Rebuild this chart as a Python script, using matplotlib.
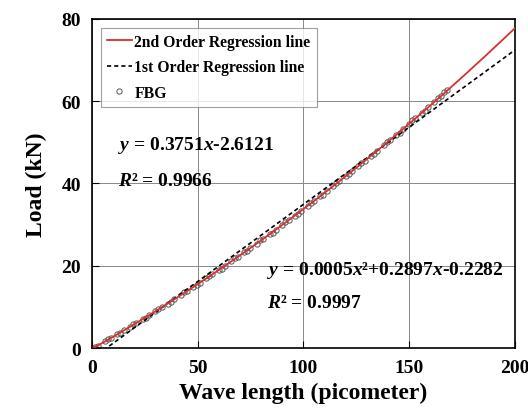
import matplotlib
matplotlib.use('Agg')
import matplotlib.pyplot as plt
import numpy as np

plt.rcParams['font.family'] = 'Liberation Serif'
plt.rcParams['font.weight'] = 'bold'
plt.rcParams['mathtext.fontset'] = 'custom'
plt.rcParams['mathtext.rm'] = 'Liberation Serif:bold'
plt.rcParams['mathtext.it'] = 'Liberation Serif:italic:bold'
plt.rcParams['mathtext.bf'] = 'Liberation Serif:bold'

# FBG measurements (wave length shift in pm, load in kN)
wl_1 = [0, 3, 6, 9, 12, 15, 18, 21, 24, 27, 30, 33, 36, 39, 42, 45, 48, 51, 54, 57,
        60, 63, 66, 69, 72, 75, 78, 81, 84, 87, 90, 93, 96, 99, 102, 105, 108, 111,
        114, 117, 120, 123, 126, 129, 132, 135, 138, 141, 144, 147, 150, 153, 156,
        159, 162, 165, 168]
load_1 = [0.1, 0.6, 1.6, 2.4, 3.3, 4.3, 5.1, 6.1, 7.0, 8.0, 8.9, 9.9, 10.8, 11.9, 12.8,
          13.8, 14.9, 15.8, 16.9, 17.9, 19.0, 20.0, 21.1, 22.1, 23.3, 24.3, 25.4, 26.5,
          27.6, 28.8, 29.9, 31.0, 32.2, 33.4, 34.5, 35.7, 36.9, 38.1, 39.3, 40.5, 41.7,
          43.0, 44.2, 45.5, 46.7, 48.0, 49.3, 50.6, 51.8, 53.2, 54.5, 55.8, 57.1, 58.5,
          59.8, 61.2, 62.6]
wl_2 = [1.5, 7.5, 13.5, 19.5, 25.5, 31.5, 37.5, 43.5, 49.5, 55.5, 61.5, 67.5, 73.5,
        79.5, 85.5, 91.5, 97.5, 103.5, 109.5, 115.5, 121.5, 127.5, 133.5, 139.5,
        145.5, 151.5, 157.5, 163.5, 166.5]
load_2 = [0.3, 2.1, 3.6, 5.8, 7.3, 9.6, 11.2, 13.5, 15.2, 17.6, 19.3, 21.8, 23.6, 26.2,
          28.0, 30.7, 32.6, 35.3, 37.3, 40.1, 42.2, 45.0, 47.2, 50.1, 52.3, 55.4, 57.6,
          60.8, 62.2]

# regression coefficients as printed on the chart
coef_2nd = [0.0005, 0.2897, -0.2282]
coef_1st = [0.3751, -2.6121]

fig = plt.figure(figsize=(5.28, 4.14), dpi=100)
ax = fig.add_axes([0.174, 0.157, 0.801, 0.795])

xs = np.linspace(0, 200, 200)
ax.plot(xs, np.polyval(coef_2nd, xs), '-', color='#d9302f', linewidth=1.3,
        label='2nd Order Regression line', zorder=4)
ax.plot(xs, np.polyval(coef_1st, xs), '--', color='black', linewidth=1.2,
        dashes=(2.5, 1.8), label='1st Order Regression line', zorder=3)
ax.plot(wl_1 + wl_2, load_1 + load_2, 'o', markerfacecolor='none',
        markeredgecolor='#555555', markersize=3.8, markeredgewidth=0.7,
        label='FBG', zorder=2)

ax.set_xlim(0, 200)
ax.set_ylim(0, 80)
ax.set_xticks([0, 50, 100, 150, 200])
ax.set_yticks([0, 20, 40, 60, 80])
ax.grid(color='#888888', linewidth=0.7)
ax.tick_params(direction='in', labelsize=14, length=5, pad=8)
for s in ax.spines.values():
    s.set_linewidth(1.2)

ax.set_xlabel('Wave length (picometer)', fontsize=17, fontweight='bold', labelpad=4)
ax.set_ylabel('Load (kN)', fontsize=17, fontweight='bold', labelpad=10)

ax.text(0.062, 0.605, r'$y$ = 0.3751$x$-2.6121', transform=ax.transAxes, fontsize=14)
ax.text(0.062, 0.495, r'$R$² = 0.9966', transform=ax.transAxes, fontsize=14)
ax.text(0.415, 0.225, r'$y$ = 0.0005$x$²+0.2897$x$-0.2282', transform=ax.transAxes,
        fontsize=14)
ax.text(0.415, 0.125, r'$R$² = 0.9997', transform=ax.transAxes, fontsize=14)

leg = ax.legend(loc='upper left', fontsize=11.3, fancybox=False, edgecolor='#888888',
                handlelength=1.6, handletextpad=0.15, borderaxespad=0.55,
                labelspacing=0.6)
leg.get_frame().set_linewidth(0.8)

fig.savefig('out.png', dpi=100)
